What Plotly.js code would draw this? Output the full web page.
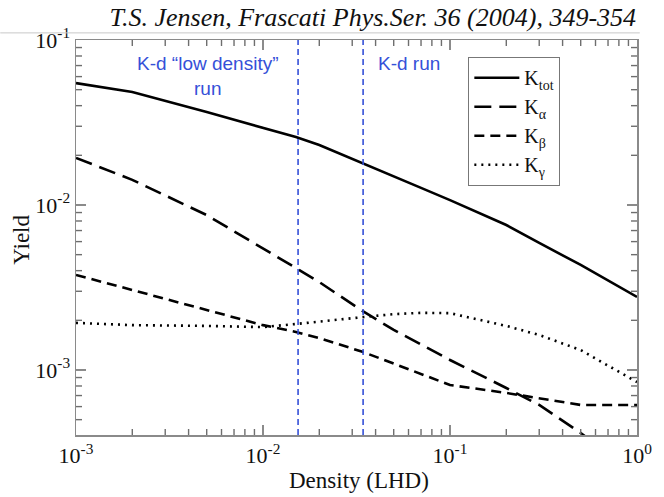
<!DOCTYPE html>
<html>
<head>
<meta charset="utf-8">
<script src="https://cdn.plot.ly/plotly-3.0.1.min.js"></script>
<style>
  html, body { margin: 0; padding: 0; background: #ffffff; }
  #chart { width: 664px; height: 497px; }
</style>
</head>
<body>
<div id="chart"></div>
<script>
// Kaonic-atom yields versus target density (liquid-hydrogen density units)
const density = [0.001, 0.002, 0.005, 0.01, 0.015, 0.02, 0.034, 0.05, 0.07, 0.1, 0.2, 0.3, 0.5, 1.0];
const kTot   = [0.0548, 0.0484, 0.0366, 0.0293, 0.0258, 0.0231, 0.0180, 0.0150, 0.0127, 0.0107, 0.00756, 0.00589, 0.00433, 0.00277];
const kAlpha = [0.0193, 0.0142, 0.00869, 0.00548, 0.00415, 0.00341, 0.00228, 0.00175, 0.00142, 0.00115, 0.000778, 0.000614, 0.000415, 0.00023];
const kBeta  = [0.00377, 0.00305, 0.00231, 0.00187, 0.00170, 0.00156, 0.00129, 0.00109, 0.000950, 0.000811, 0.000726, 0.000677, 0.000614, 0.000614];
const kGamma = [0.00193, 0.00187, 0.00185, 0.00182, 0.00190, 0.00197, 0.00209, 0.00218, 0.00222, 0.00221, 0.00185, 0.00163, 0.00132, 0.000845];

const seriesNames = ['K<sub>tot</sub>', 'K<sub>α</sub>', 'K<sub>β</sub>', 'K<sub>γ</sub>'];
const seriesValues = [kTot, kAlpha, kBeta, kGamma];
const seriesDash = ['solid', '17px,8px', '10px,6px', '2px,5px'];

// Densities of the two experimental runs
const runDensity = [0.0154, 0.0343];
const runLabels = ['K-d “low density”<br>run', 'K-d run'];
const runLabelX = [0.0051, 0.06];

const xTickVals = [0.001, 0.01, 0.1, 1];
const xTickText = ['10<sup>-3</sup>', '10<sup>-2</sup>', '10<sup>-1</sup>', '10<sup>0</sup>'];
const yTickVals = [0.001, 0.01, 0.1];
const yTickText = ['10<sup>-3</sup>', '10<sup>-2</sup>', '10<sup>-1</sup>'];

const W = 664, H = 497;
const margin = { l: 76, r: 27, t: 40, b: 62 };
const plotW = W - margin.l - margin.r;
const plotH = H - margin.t - margin.b;

const serif = 'Liberation Serif, Times New Roman, serif';
const sans = 'Liberation Sans, Arial, sans-serif';
const runBlue = '#3550d8';
const frameGray = '#8a8a8a';
const tickGray = '#6e6e6e';
const ink = '#111111';

const traces = seriesValues.map((vals, i) => ({
  x: density,
  y: vals,
  name: seriesNames[i],
  type: 'scatter',
  mode: 'lines',
  line: { color: '#000000', width: 2.6, dash: seriesDash[i] }
}));

// 2..9 sub-decade positions
function minorTicks(decades) {
  const out = [];
  decades.forEach(d => { for (let m = 2; m <= 9; m++) out.push(m * d); });
  return out;
}
const xMinor = minorTicks([0.001, 0.01, 0.1]);
const yMinor = minorTicks([0.0001, 0.001, 0.01]).filter(v => v > Math.pow(10, -3.394));

// inward tick marks on all four sides of the frame
const shapes = [];
function addXTicks(vals, lenPx, width) {
  const f = lenPx / plotH;
  vals.forEach(v => {
    shapes.push({ type: 'line', xref: 'x', yref: 'paper', x0: v, x1: v, y0: 0, y1: f, line: { color: tickGray, width: width } });
    shapes.push({ type: 'line', xref: 'x', yref: 'paper', x0: v, x1: v, y0: 1, y1: 1 - f, line: { color: tickGray, width: width } });
  });
}
function addYTicks(vals, lenPx, width) {
  const f = lenPx / plotW;
  vals.forEach(v => {
    shapes.push({ type: 'line', xref: 'paper', yref: 'y', x0: 0, x1: f, y0: v, y1: v, line: { color: tickGray, width: width } });
    shapes.push({ type: 'line', xref: 'paper', yref: 'y', x0: 1, x1: 1 - f, y0: v, y1: v, line: { color: tickGray, width: width } });
  });
}
addXTicks(xTickVals.slice(1, -1), 10, 1.6);
addXTicks(xMinor, 6, 1.4);
addYTicks(yTickVals.slice(0, -1), 10, 1.6);
addYTicks(yMinor, 6, 1.4);

runDensity.forEach(d => shapes.push({
  type: 'line', xref: 'x', yref: 'paper',
  x0: d, x1: d, y0: 0, y1: 1,
  line: { color: runBlue, width: 1.6, dash: '6px,4px' }
}));
shapes.push({
  type: 'line', xref: 'paper', yref: 'paper',
  x0: -0.135, x1: 1.005, y0: 1.018, y1: 1.018,
  line: { color: '#c8c8c8', width: 1 }
});

const annotations = runLabels.map((t, i) => ({
  text: t, x: Math.log10(runLabelX[i]), xref: 'x', yref: 'paper',
  y: 0.972, yanchor: 'top', showarrow: false, align: 'center',
  font: { family: sans, size: 19, color: runBlue }
}));
// axis titles
annotations.push({
  text: 'Density (LHD)', xref: 'paper', yref: 'paper', x: 0.505, y: -0.114,
  xanchor: 'center', yanchor: 'middle', showarrow: false,
  font: { family: serif, size: 23, color: ink }
});
annotations.push({
  text: 'Yield', xref: 'paper', yref: 'paper', x: -0.0963, y: 0.494, textangle: -90,
  xanchor: 'center', yanchor: 'middle', showarrow: false,
  font: { family: serif, size: 23, color: ink }
});

const axisCommon = {
  type: 'log',
  tickmode: 'array',
  ticks: '',
  showline: true,
  linecolor: frameGray,
  linewidth: 1.5,
  mirror: true,
  showgrid: false,
  zeroline: false,
  tickfont: { family: serif, size: 22, color: ink }
};

const layout = {
  width: W,
  height: H,
  margin: margin,
  paper_bgcolor: '#ffffff',
  plot_bgcolor: '#ffffff',
  title: {
    text: '<i>T.S. Jensen, Frascati Phys.Ser. 36 (2004), 349-354</i>',
    font: { family: serif, size: 26, color: ink },
    xref: 'paper', x: 0.529, xanchor: 'center',
    yref: 'container', y: 0.965, yanchor: 'middle'
  },
  xaxis: Object.assign({}, axisCommon, {
    range: [-3, 0],
    tickvals: xTickVals,
    ticktext: xTickText
  }),
  yaxis: Object.assign({}, axisCommon, {
    range: [-3.394, -1],
    tickvals: yTickVals,
    ticktext: yTickText
  }),
  legend: {
    x: 0.699, xanchor: 'left',
    y: 0.957, yanchor: 'top',
    bgcolor: '#ffffff',
    bordercolor: '#777777',
    borderwidth: 1.2,
    itemwidth: 45,
    font: { family: serif, size: 20, color: ink }
  },
  showlegend: true,
  shapes: shapes,
  annotations: annotations
};

Plotly.newPlot('chart', traces, layout, { displayModeBar: false, staticPlot: true });
</script>
</body>
</html>
